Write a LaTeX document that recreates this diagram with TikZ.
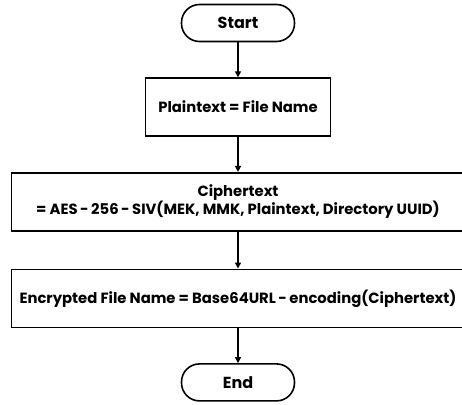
\documentclass[tikz,border=0pt]{standalone}
\usepackage{fontspec}
\setmainfont{Poppins}
\usepackage{tikz}
\usetikzlibrary{positioning,arrows.meta}

\begin{document}
\begin{tikzpicture}[x=1pt, y=-1pt, node distance=35pt, >={Triangle[length=6pt,width=6pt]}]
\tikzstyle{terminal} = [draw, rounded corners=18pt, minimum width=113pt, minimum height=37pt, line width=1.6pt, font=\fontsize{16}{18}\selectfont\bfseries]
\tikzstyle{process} = [draw, rectangle, minimum height=58pt, line width=1.6pt, align=center, font=\fontsize{14.8}{18}\selectfont\bfseries]
\tikzstyle{flow} = [draw, ->, line width=1.6pt]

\useasboundingbox [fill=white] (0,0) rectangle (462,404);

% Nodes from top to bottom
\node [terminal] (START) at (238,23) {Start};
\node [process, minimum width=185pt, below=of START] (PLAIN) {Plaintext = File Name};
\node [process, minimum width=453pt, below=of PLAIN] (CIPHER) {Ciphertext\\= AES{\,}-{\,}256{\,}-{\,}SIV(MEK, MMK, Plaintext, Directory UUID)};
\node [process, minimum width=453pt, below=37pt of CIPHER] (ENCNAME) {Encrypted File Name = Base64URL{\,}-{\,}encoding(Ciphertext)};
\node [terminal, below=of ENCNAME] (END) {End};

% Connectors
\draw [flow] (START) -- (PLAIN);
\draw [flow] (PLAIN) -- (CIPHER);
\draw [flow] (CIPHER) -- (ENCNAME);
\draw [flow] (ENCNAME) -- (END);

\end{tikzpicture}
\end{document}
